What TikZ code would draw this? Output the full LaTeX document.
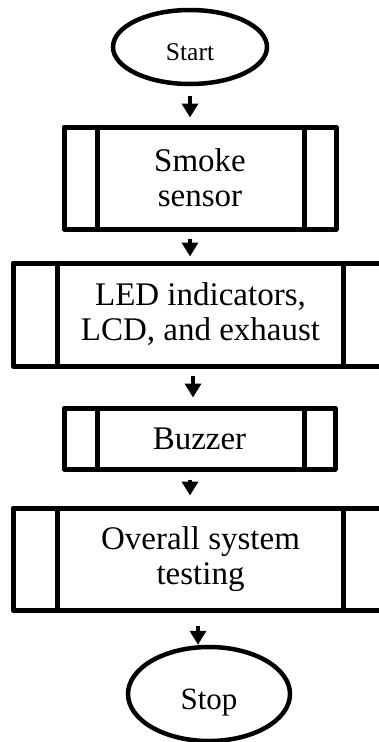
\documentclass[tikz,border=0pt]{standalone}
\usepackage{fontspec}
\setmainfont{Liberation Serif}
\usetikzlibrary{shapes.geometric,arrows.meta,calc}
\tikzset{
  term/.style={ellipse,draw,line width=4.5pt,inner sep=0pt},
  proc/.style={rectangle,draw,line width=5pt,inner sep=0pt,line join=round,align=center,
    font=\fontsize{33}{35}\selectfont},
  inner/.style={line width=5pt},
  flow/.style={line width=4.5pt,-{Triangle[width=16pt,length=14pt]}},
}
\begin{document}
\begin{tikzpicture}[x=1pt,y=-1pt]
\useasboundingbox (0,0) rectangle (379,742);
\node[term,minimum width=154pt,minimum height=74pt,font=\fontsize{25.5}{28}\selectfont] (start) at (190,47) {\raisebox{-13.5pt}[0pt][0pt]{Start}};
\node[proc,minimum width=272pt,minimum height=102pt] (smoke) at (200,178) {Smoke\\sensor};
\node[proc,minimum width=375pt,minimum height=103pt] (led) at (200.5,314.5) {LED indicators,\\LCD, and exhaust};
\node[proc,minimum width=271pt,minimum height=61pt] (buzz) at (199.5,438.5) {Buzzer};
\node[proc,minimum width=375pt,minimum height=102pt] (over) at (200.5,559) {Overall system\\testing};
\node[term,minimum width=162pt,minimum height=94pt,font=\fontsize{31}{33}\selectfont] (stop) at (209,694) {\raisebox{-15pt}[0pt][0pt]{Stop}};
% inner vertical lines
\foreach \n/\l/\r in {smoke/36/34, led/47/47, buzz/36/33, over/47/47}{
  \draw[inner] ($(\n.north west)+(\l,0)$) -- ($(\n.south west)+(\l,0)$);
  \draw[inner] ($(\n.north east)+(-\r,0)$) -- ($(\n.south east)+(-\r,0)$);
}
% arrows
\draw[flow,shorten <=10pt,shorten >=7pt] (start.south) -- (start.south |- smoke.north);
\draw[flow,shorten <=7pt,shorten >=4pt] ([xshift=-10pt]smoke.south) -- ([xshift=-10pt]smoke.south |- led.north);
\draw[flow,shorten <=7pt,shorten >=8pt] ([xshift=-7.5pt]led.south) -- ([xshift=-7.5pt]led.south |- buzz.north);
\draw[flow,shorten <=8pt,shorten >=10pt] ([xshift=-9.5pt]buzz.south) -- ([xshift=-9.5pt]buzz.south |- over.north);
\draw[flow,shorten <=13pt,shorten >=0pt] ([xshift=-2.5pt]over.south) -- ([xshift=-2.5pt]over.south |- stop.north);
\end{tikzpicture}
\end{document}
